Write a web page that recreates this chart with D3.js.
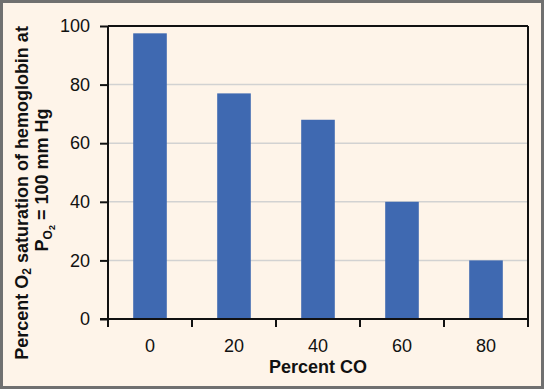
<!DOCTYPE html>
<html>
<head>
<meta charset="utf-8">
<script src="https://cdn.jsdelivr.net/npm/d3@7"></script>
<style>
  html, body { margin: 0; padding: 0; background: #fef4e9; }
  svg { display: block; }
  text { font-family: "Liberation Sans", Arial, sans-serif; fill: #111; }
</style>
</head>
<body>
<svg id="chart" width="544" height="389"></svg>
<script>
const categories = ["0", "20", "40", "60", "80"];
const values = [97.5, 77, 68, 40, 20];
const yTicks = [0, 20, 40, 60, 80, 100];
const xTitle = "Percent CO";

const W = 544, H = 389;
const m = { left: 108, right: 528, top: 26, bottom: 319 };
const svg = d3.select("#chart");

svg.append("rect").attr("x", 1.5).attr("y", 1.5).attr("width", W - 3).attr("height", H - 3)
  .attr("fill", "#fef4e9").attr("stroke", "#707070").attr("stroke-width", 3);

const x = d3.scaleBand().domain(categories).range([m.left, m.right])
  .paddingInner(0.6).paddingOuter(0.3);
const y = d3.scaleLinear().domain([0, 100]).range([m.bottom, m.top]);

// gridlines
svg.append("g").selectAll("line").data(yTicks.filter(t => t > 0 && t < 100)).join("line")
  .attr("x1", m.left).attr("x2", m.right)
  .attr("y1", d => y(d)).attr("y2", d => y(d))
  .attr("stroke", "#d2d2d2").attr("stroke-width", 1.5);

// bars
svg.append("g").selectAll("rect").data(values).join("rect")
  .attr("x", (d, i) => x(categories[i]))
  .attr("width", x.bandwidth())
  .attr("y", d => y(d))
  .attr("height", d => y(0) - y(d))
  .attr("fill", "#3f69b1");

// frame top & right
svg.append("line").attr("x1", m.left).attr("x2", m.right).attr("y1", m.top).attr("y2", m.top)
  .attr("stroke", "#111").attr("stroke-width", 2);
svg.append("line").attr("x1", m.right).attr("x2", m.right).attr("y1", m.top).attr("y2", m.bottom)
  .attr("stroke", "#111").attr("stroke-width", 2);

// y axis
const yAxis = d3.axisLeft(y).tickValues(yTicks).tickSize(8).tickPadding(10);
const gy = svg.append("g").attr("transform", `translate(${m.left},0)`).call(yAxis);
gy.select(".domain").remove();
gy.selectAll(".tick line").attr("stroke", "#111").attr("stroke-width", 2);
gy.selectAll(".tick text").style("font-size", "18px").style("font-family", "Liberation Sans, Arial, sans-serif").attr("fill", "#111");
svg.append("line").attr("x1", m.left).attr("x2", m.left).attr("y1", m.top).attr("y2", m.bottom + 8)
  .attr("stroke", "#111").attr("stroke-width", 2);

// x axis
const step = x.step();
const bounds = categories.map(c => x(c) - (step - x.bandwidth()) / 2).concat([m.right]);
svg.append("line").attr("x1", m.left - 8).attr("x2", m.right).attr("y1", m.bottom).attr("y2", m.bottom)
  .attr("stroke", "#111").attr("stroke-width", 2);
svg.append("g").selectAll("line").data(bounds).join("line")
  .attr("x1", d => d).attr("x2", d => d).attr("y1", m.bottom).attr("y2", m.bottom + 8)
  .attr("stroke", "#111").attr("stroke-width", 2);
svg.append("g").selectAll("text").data(categories).join("text")
  .attr("x", c => x(c) + x.bandwidth() / 2).attr("y", 352)
  .attr("text-anchor", "middle").style("font-size", "18px").text(c => c);

svg.append("text").attr("x", (m.left + m.right) / 2).attr("y", 373)
  .attr("text-anchor", "middle").style("font-size", "18px").style("font-weight", "bold").text(xTitle);

// y title
const t1 = svg.append("text").attr("transform", "translate(28,193) rotate(-90)")
  .attr("text-anchor", "middle").style("font-size", "18px").style("font-weight", "bold");
t1.append("tspan").text("Percent O");
t1.append("tspan").attr("baseline-shift", "-25%").style("font-size", "12px").text("2");
t1.append("tspan").text(" saturation of hemoglobin at");

const t2 = svg.append("text").attr("transform", "translate(48,180) rotate(-90)")
  .attr("text-anchor", "middle").style("font-size", "18px").style("font-weight", "bold");
t2.append("tspan").text("P");
t2.append("tspan").attr("dy", 4).style("font-size", "12px").text("O");
t2.append("tspan").attr("dy", 3).style("font-size", "9px").text("2");
t2.append("tspan").attr("dy", -7).text(" = 100 mm Hg");
</script>
</body>
</html>
